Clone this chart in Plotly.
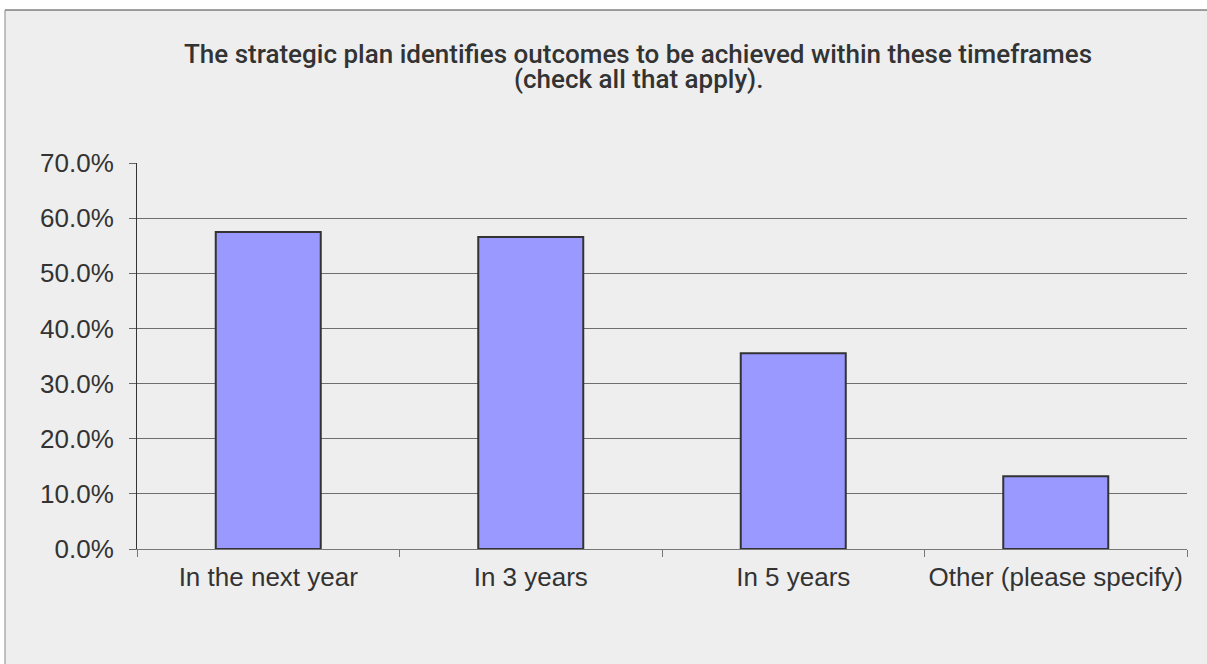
import plotly.graph_objects as go

# Survey responses: share of respondents per timeframe
categories = ["In the next year", "In 3 years", "In 5 years", "Other (please specify)"]
shares = [0.575, 0.566, 0.355, 0.132]
y_ticks = [0.0, 0.1, 0.2, 0.3, 0.4, 0.5, 0.6, 0.7]
title_lines = [
    "The strategic plan identifies outcomes to be achieved within these timeframes",
    "(check all that apply).",
]

W, H = 1207, 664
L, R, T, B = 137, 20, 163, 115
pw, ph = W - L - R, H - T - B


def px_x(px):
    return (px - L) / pw


def px_y(py):
    return (H - B - py) / ph


text_color = "#333333"
tick_font = dict(family="Liberation Sans, Arial, sans-serif", size=26, color=text_color)
title_font = dict(family="Roboto, Liberation Sans, Arial, sans-serif", size=26,
                  color=text_color, weight=500)

fig = go.Figure()
fig.add_trace(go.Bar(
    x=categories,
    y=shares,
    width=0.4,
    marker=dict(color="#9999ff", line=dict(color="#333333", width=2)),
    hoverinfo="x+y",
))

frame_left, frame_top = px_x(5), px_y(10)
frame_right, frame_bottom = px_x(W + 60), px_y(H + 60)

fig.update_layout(
    width=W,
    height=H,
    margin=dict(l=L, r=R, t=T, b=B, autoexpand=False),
    paper_bgcolor="white",
    plot_bgcolor="rgba(0,0,0,0)",
    showlegend=False,
    shapes=[
        # chart area fill
        dict(type="rect", xref="paper", yref="paper",
             x0=frame_left, x1=frame_right, y0=frame_bottom, y1=frame_top,
             fillcolor="#eeeeee", line=dict(width=0), layer="below"),
        # top and left frame edges
        dict(type="line", xref="paper", yref="paper",
             x0=frame_left, x1=frame_right, y0=frame_top, y1=frame_top,
             line=dict(color="#444444", width=1), layer="below"),
        dict(type="line", xref="paper", yref="paper",
             x0=frame_left, x1=frame_left, y0=frame_bottom, y1=frame_top,
             line=dict(color="#888888", width=1), layer="below"),
    ],
    annotations=[
        dict(text=title_lines[0], xref="paper", yref="paper",
             x=px_x(638), y=px_y(54), xanchor="center", yanchor="middle",
             showarrow=False, font=title_font),
        dict(text=title_lines[1], xref="paper", yref="paper",
             x=px_x(638), y=px_y(79), xanchor="center", yanchor="middle",
             showarrow=False, font=title_font),
    ],
)

fig.update_xaxes(
    type="category",
    automargin=False,
    tickangle=0,
    showline=True, linecolor="#777777", linewidth=1,
    ticks="outside", tickson="boundaries", ticklen=7,
    tickcolor="#777777", tickwidth=1,
    tickfont=tick_font,
    ticklabelstandoff=5,
    showgrid=False,
)

fig.update_yaxes(
    automargin=False,
    range=[0, 0.7],
    tickvals=y_ticks,
    tickformat=".1%",
    showline=True, linecolor="#333333", linewidth=1,
    ticks="outside", ticklen=7, tickcolor="#666666", tickwidth=1,
    showgrid=True, gridcolor="#6e6e6e", gridwidth=1,
    zeroline=False,
    tickfont=tick_font,
    ticklabelstandoff=10,
)

fig.write_html("out.html")
